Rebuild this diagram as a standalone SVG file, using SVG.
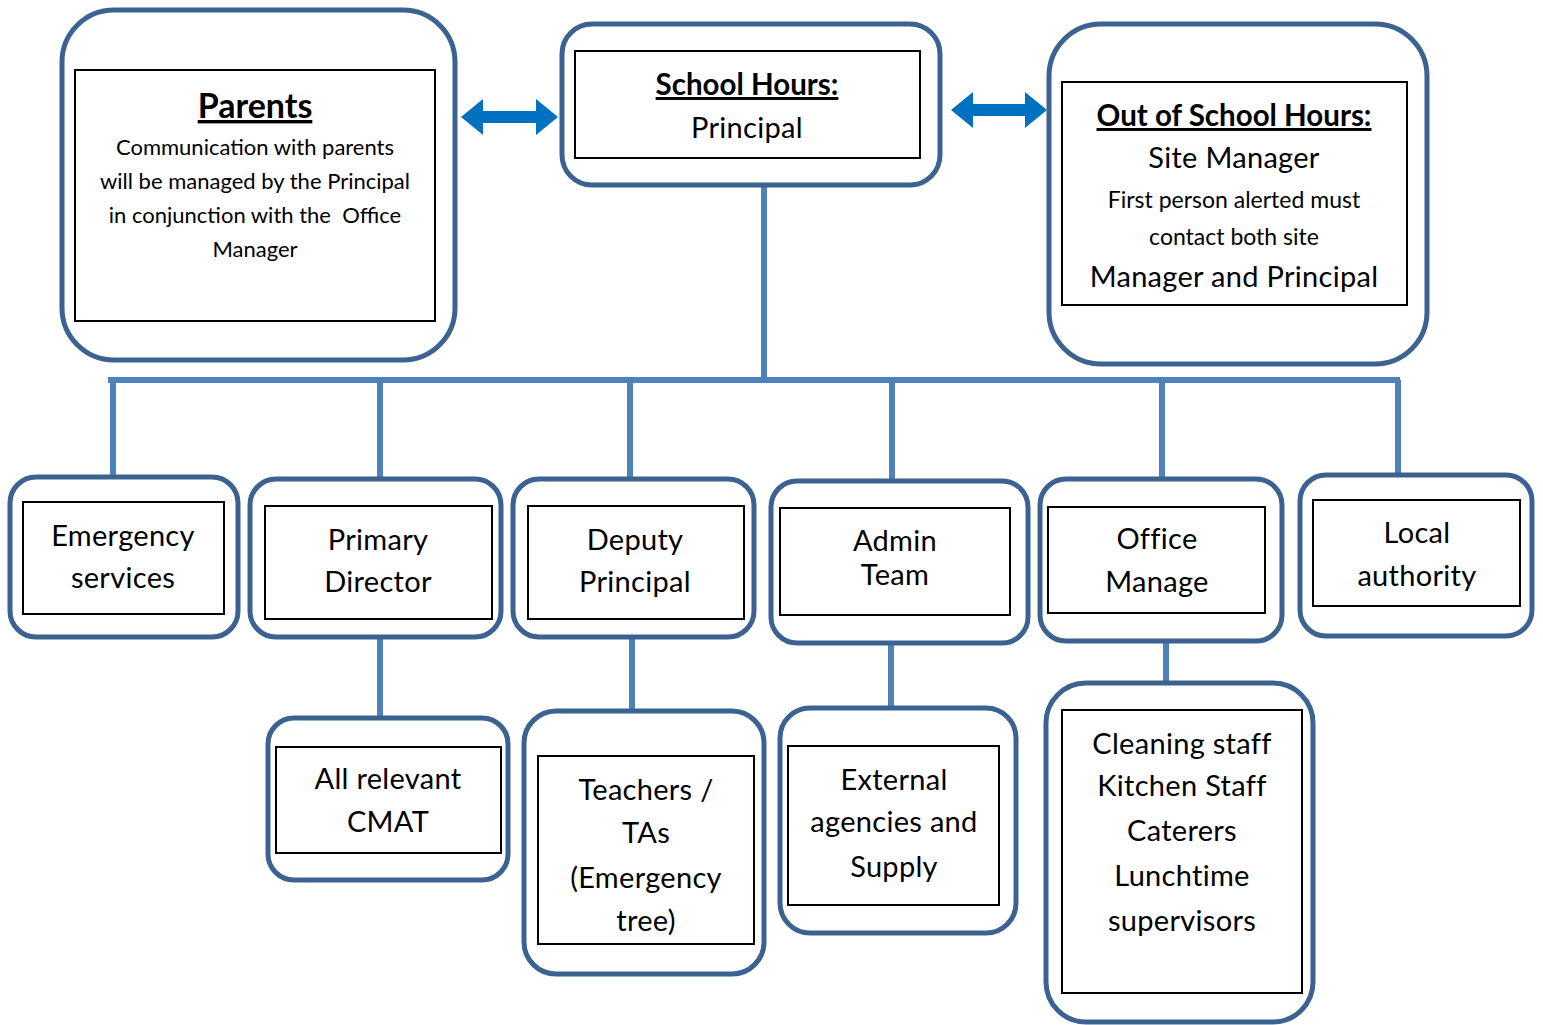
<svg xmlns="http://www.w3.org/2000/svg" width="1543" height="1025" viewBox="0 0 1543 1025">
<style>
.outer{fill:#fff;stroke:#3b6290;stroke-width:5}
.inner{fill:none;stroke:#000;stroke-width:2}
.t{font-family:Lato,"Open Sans","Liberation Sans",sans-serif;fill:#000;text-anchor:middle}
.l{font-size:29px;letter-spacing:0.3px}
.s{font-size:22px}
.h{font-size:29.5px;font-weight:bold;text-decoration:underline}
.conn{stroke:#4f81bd;stroke-width:6;fill:none}
.arr{fill:#0070c0}
</style>
<rect width="1543" height="1025" fill="#fff"/>
<g id="connectors">
<path class="conn" d="M764 175V380M108 380H1400M113 380V477M380 380V479M630 380V479M892 380V481M1162 380V479M1398 380V475M380 637V718M632 637V711M891 643V708M1166 641V683"/>
<path class="arr" d="M461 117L483 99V111H536V99L558 117L536 135V123H483V135Z"/>
<path class="arr" d="M951 110L973 92V104H1025V92L1047 110L1025 128V116H973V128Z"/>
</g>
<g id="parents">
<rect class="outer" x="62" y="10" width="393" height="350" rx="52"/>
<rect class="inner" x="75" y="70" width="360" height="251"/>
<text class="t h" x="255" y="118" style="font-size:34px">Parents</text>
<text class="t s" x="255" y="155">Communication with parents</text>
<text class="t s" x="255" y="189">will be managed by the Principal</text>
<text class="t s" x="255" y="223" xml:space="preserve">in conjunction with the  Office</text>
<text class="t s" x="255" y="257">Manager</text>
</g>
<g id="school-hours">
<rect class="outer" x="562" y="24" width="378" height="161" rx="30"/>
<rect class="inner" x="575" y="51" width="345" height="107"/>
<text class="t h" x="747" y="95">School Hours:</text>
<text class="t l" x="747" y="138">Principal</text>
</g>
<g id="out-of-school">
<rect class="outer" x="1049" y="24" width="378" height="340" rx="52"/>
<rect class="inner" x="1062" y="82" width="345" height="223"/>
<text class="t h" x="1234" y="126">Out of School Hours:</text>
<text class="t l" x="1234" y="168">Site Manager</text>
<text class="t s" x="1234" y="208" style="font-size:23px">First person alerted must</text>
<text class="t s" x="1234" y="245" style="font-size:23px">contact both site</text>
<text class="t l" x="1234" y="287">Manager and Principal</text>
</g>
<g id="emergency">
<rect class="outer" x="10" y="477" width="228" height="160" rx="26"/>
<rect class="inner" x="23" y="502" width="201" height="112"/>
<text class="t l" x="123" y="546">Emergency</text>
<text class="t l" x="123" y="588">services</text>
</g>
<g id="primary">
<rect class="outer" x="250" y="479" width="251" height="158" rx="26"/>
<rect class="inner" x="265" y="506" width="227" height="113"/>
<text class="t l" x="378" y="550">Primary</text>
<text class="t l" x="378" y="592">Director</text>
</g>
<g id="deputy">
<rect class="outer" x="513" y="479" width="241" height="158" rx="26"/>
<rect class="inner" x="528" y="506" width="216" height="113"/>
<text class="t l" x="635" y="550">Deputy</text>
<text class="t l" x="635" y="592">Principal</text>
</g>
<g id="admin">
<rect class="outer" x="771" y="481" width="257" height="162" rx="26"/>
<rect class="inner" x="780" y="508" width="230" height="107"/>
<text class="t l" x="895" y="551">Admin</text>
<text class="t l" x="895" y="585">Team</text>
</g>
<g id="office">
<rect class="outer" x="1040" y="479" width="242" height="162" rx="26"/>
<rect class="inner" x="1048" y="507" width="217" height="106"/>
<text class="t l" x="1157" y="549">Office</text>
<text class="t l" x="1157" y="592">Manage</text>
</g>
<g id="local">
<rect class="outer" x="1300" y="475" width="232" height="161" rx="26"/>
<rect class="inner" x="1313" y="500" width="207" height="106"/>
<text class="t l" x="1417" y="543">Local</text>
<text class="t l" x="1417" y="586">authority</text>
</g>
<g id="cmat">
<rect class="outer" x="268" y="718" width="240" height="162" rx="26"/>
<rect class="inner" x="276" y="747" width="225" height="106"/>
<text class="t l" x="388" y="789">All relevant</text>
<text class="t l" x="388" y="832">CMAT</text>
</g>
<g id="teachers">
<rect class="outer" x="524" y="711" width="240" height="263" rx="32"/>
<rect class="inner" x="538" y="756" width="216" height="188"/>
<text class="t l" x="646" y="800">Teachers /</text>
<text class="t l" x="646" y="843">TAs</text>
<text class="t l" x="646" y="888">(Emergency</text>
<text class="t l" x="646" y="931">tree)</text>
</g>
<g id="external">
<rect class="outer" x="780" y="708" width="236" height="225" rx="30"/>
<rect class="inner" x="788" y="746" width="211" height="159"/>
<text class="t l" x="894" y="790">External</text>
<text class="t l" x="894" y="832">agencies and</text>
<text class="t l" x="894" y="877">Supply</text>
</g>
<g id="cleaning">
<rect class="outer" x="1046" y="683" width="267" height="339" rx="40"/>
<rect class="inner" x="1062" y="710" width="240" height="283"/>
<text class="t l" x="1182" y="754">Cleaning staff</text>
<text class="t l" x="1182" y="796">Kitchen Staff</text>
<text class="t l" x="1182" y="841">Caterers</text>
<text class="t l" x="1182" y="886">Lunchtime</text>
<text class="t l" x="1182" y="931">supervisors</text>
</g>
</svg>
